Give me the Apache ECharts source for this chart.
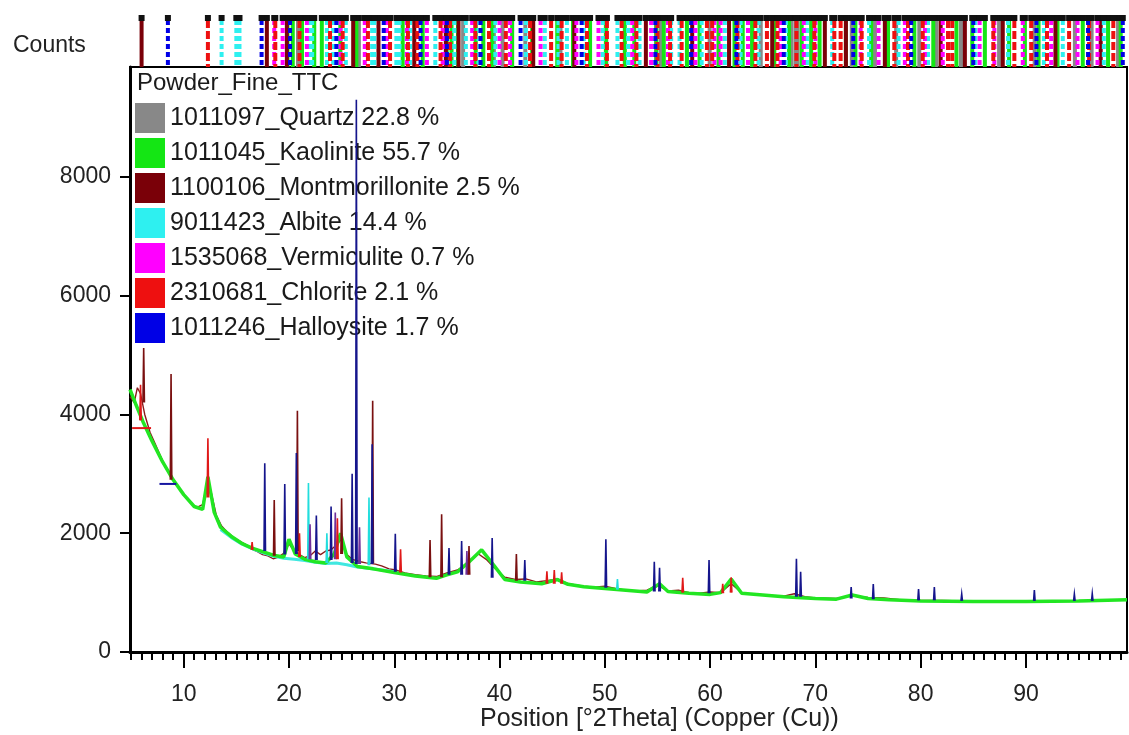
<!DOCTYPE html>
<html><head><meta charset="utf-8">
<script src="https://cdn.jsdelivr.net/npm/echarts@6/dist/echarts.min.js"></script>
<style>html,body{margin:0;padding:0;background:#fff}#c{width:1129px;height:735px}</style>
</head><body><div id="c"></div>
<script>
// ---------- data ----------
const phaseNames = ['1011097_Quartz 22.8 %','1011045_Kaolinite 55.7 %','1100106_Montmorillonite 2.5 %','9011423_Albite 14.4 %','1535068_Vermiculite 0.7 %','2310681_Chlorite 2.1 %','1011246_Halloysite 1.7 %'];
const phaseColors = ['#888888','#14e614','#7a0008','#2ef0f0','#ff00ff','#ee1010','#0000e6'];
const phaseDash = [null, null, null, [5,3], [5,3], [8,3], [5,3]];
// reference pattern stick positions (°2Theta)
const quartzPos = [20.86,26.64,36.54,39.46,40.29,42.45,45.79,50.14,54.87,55.33,59.96,63.99,64.81,67.74,68.14,68.31,73.46,75.66,77.67,79.87,81.49,83.83,87.45,90.83,94.65,96.24,98.75];
const kaolinitePos = [19.86,20.36,21.24,23.12,24.88,26.4,34.98,35.44,36.06,37.74,38.46,39.3,41.2,45.48,46.98,48.6,50.1,51.9,54.9,55.6,57.8,59.0,60.8,62.32,64.0,66.1,67.5,68.7,70.4,72.9,73.8,76.9,79.4,83.4,84.9,86.1,88.4,91.2,93.0,95.4,97.8,22.4,30.8,32.7,43.1,52.8,63.1,69.6,75.3,81.2,89.9,99.0];
const montPos = [6.0,17.9,19.8,28.5,34.9,36.1,43.2,53.9,61.8,65.9,72.9,76.6,84.2,87.8,92.8,97.1,26.1,31.9,47.1,58.3,70.9,81.9];
const albitePos = [13.6,15.0,15.3,22.0,22.2,23.6,24.2,25.4,27.9,28.1,30.2,30.5,31.5,33.9,35.0,35.7,36.8,39.6,42.5,44.3,45.6,48.0,49.8,51.2,52.2,53.3,56.3,59.2,61.4,64.6,67.2,71.6,75.1,80.7,88.3,93.5,38.0,46.4,57.1,62.9,69.2,77.9,85.2,91.7,97.4];
const vermPos = [18.6,19.4,21.7,24.9,27.2,31.2,33.1,34.6,37.4,41.0,43.9,47.3,49.4,52.6,56.0,58.6,60.4,63.6,66.7,70.0,74.3,78.5,82.1,85.6,89.7,92.4,96.8,29.3,40.0,54.4,61.0,68.9,76.0,80.4,87.0,94.9];
const chloritePos = [12.3,18.7,23.9,25.1,29.6,31.3,34.4,35.3,37.7,40.6,44.9,45.9,50.2,53.0,56.2,57.3,59.7,60.2,62.6,65.4,68.2,69.9,71.8,74.4,77.5,80.2,83.0,86.9,90.5,94.1,98.3,21.0,27.5,32.2,39.0,42.9,48.3,51.6,55.0,64.3,66.4,72.4,78.8,82.6,88.9,92.0,96.0];
const halloPos = [8.5,17.4,20.1,24.5,29.0,32.5,35.0,38.2,42.0,47.8,54.8,58.2,62.5,67.0,73.6,79.1,85.0,91.0,95.9,99.2];
const phasePos = [quartzPos,kaolinitePos,montPos,albitePos,vermPos,chloritePos,halloPos];

// observed scan (background trace) [2Theta, counts]
const observed = [[4.9,4300],[5.3,4200],[5.6,4450],[5.9,4350],[6.3,4000],[6.8,3700],[7.3,3500],[7.8,3300],[8.3,3100],[8.8,2950],[9.4,2800],[10,2650],[10.6,2520],[11.2,2430],[11.8,2480],[12.2,2800],[12.6,2700],[13.1,2300],[13.6,2120],[14.2,2010],[14.8,1920],[15.4,1860],[16,1800],[16.5,1730],[17,1690],[17.5,1640],[18,1620],[18.5,1570],[19,1600],[19.5,1660],[20,1820],[20.5,1700],[21,1640],[21.5,1590],[22,1620],[22.5,1700],[23,1640],[23.5,1700],[24,1720],[24.5,1800],[25,1900],[25.5,1640],[26,1560],[26.8,1520],[27.3,1500],[28.2,1480],[28.8,1450],[29.5,1400],[30.2,1380],[31,1330],[32,1300],[33,1280],[34,1270],[35,1330],[36,1380],[37,1500],[38,1650],[38.8,1550],[39.5,1420],[40.5,1260],[41.5,1220],[42.5,1230],[43.5,1180],[44.5,1200],[45.5,1230],[46.5,1150],[48,1110],[49,1090],[50,1110],[51,1070],[52,1040],[53,1030],[54,1040],[55,1120],[56,1030],[57,1040],[58,1000],[59,990],[60,1010],[61,1000],[62,1150],[63,1000],[64,970],[65,960],[66,950],[67,940],[68,980],[69,930],[70,910],[72,900],[73.5,950],[75,920],[76.5,910],[78,880],[80,870],[82,870],[84,860],[86,860],[88,855],[90,860],[92,860],[94,865],[96,865],[98,870],[99.6,875]];
// calculated profile (green)
const calculated = [[4.9,4420],[5.5,4150],[6.2,3850],[7,3550],[8,3200],[9,2900],[10,2650],[11,2450],[11.8,2400],[12.3,2950],[12.9,2350],[13.5,2100],[14.5,1950],[15.5,1830],[16.5,1750],[17.5,1690],[18.5,1630],[19.5,1600],[20,1900],[20.6,1650],[21.5,1560],[22.5,1520],[23.5,1500],[24.3,1650],[24.9,2000],[25.5,1600],[26.5,1440],[28,1400],[30,1340],[32,1280],[34,1240],[35,1300],[36,1350],[37,1500],[38.3,1720],[39.5,1450],[40.5,1220],[42,1180],[44,1150],[45.5,1220],[46.5,1140],[48,1100],[50,1070],[52,1040],[54,1010],[55.2,1150],[56,1020],[58,990],[60,970],[61,1000],[62,1230],[63,990],[65,960],[67,930],[70,900],[72,890],[73.5,960],[75,900],[77,880],[80,860],[85,850],[90,850],[95,860],[99.6,880]];
const albiteProfile = [[13.5,2060],[14.5,1930],[15.5,1820],[16.5,1740],[17.5,1675],[18.5,1615],[19.5,1580],[20.5,1560],[21.5,1540],[22.5,1510],[23.5,1490],[24.5,1500],[25.5,1470],[26.5,1430],[27.5,1410],[28.5,1390],[30,1350]];
const stepRed = [[5.1,3770],[6.9,3770]];
const stepNavy = [[7.7,2830],[9.3,2830]];
// peaks [2Theta, base, top]
const spikesNavy = [[17.7,1700,3180],[19.6,1640,2830],[20.7,1650,3350],[22.6,1550,2300],[24.0,1550,2450],[26.0,1500,3000],[26.4,1480,9300],[27.9,1480,3500],[30.1,1350,1990],[35.2,1300,1750],[36.4,1300,1870],[39.3,1250,1920],[42.4,1200,1550],[50.1,1080,1900],[54.7,1020,1520],[55.2,1020,1420],[59.9,990,1550],[68.2,930,1570],[68.6,930,1350],[73.4,900,1095],[75.5,890,1145],[79.8,870,1060],[81.3,870,1095],[83.9,860,975],[90.8,860,1045],[94.6,860,975],[96.3,860,980]];
const spikesDark = [[6.2,4200,5120],[8.8,2900,4680],[20.8,1700,4060],[27.95,1500,4230],[34.5,1260,2320],[33.4,1260,1885],[41.6,1200,1650],[25.0,1650,2590],[18.6,1620,2560],[37.1,1300,1785]];
const spikesRed = [[12.3,2600,3600],[5.9,3900,4500],[21.0,1600,2000],[24.6,1560,2250],[44.5,1150,1360],[45.2,1150,1380],[45.9,1150,1340],[57.4,1000,1250],[62.0,1000,1260],[61.2,990,1150],[30.6,1340,1730],[16.5,1720,1850]];
const spikesCyan = [[21.85,1560,2845],[27.6,1460,2600],[51.2,1050,1230],[23.6,1500,2000]];
const spikesPurple = [[24.4,1560,2350],[22.0,1560,2150],[36.9,1300,1700],[26.7,1480,2100]];
// axes
const xMin = 4.9, xMax = 99.6, yMax = 9850;
const xTickLabels = [10,20,30,40,50,60,70,80,90];
const xMinorTicks = [5,6,7,8,9,11,12,13,14,15,16,17,18,19,21,22,23,24,25,26,27,28,29,31,32,33,34,35,36,37,38,39,41,42,43,44,45,46,47,48,49,51,52,53,54,55,56,57,58,59,61,62,63,64,65,66,67,68,69,71,72,73,74,75,76,77,78,79,81,82,83,84,85,86,87,88,89,91,92,93,94,95,96,97,98,99];
const yTickLabels = [0,2000,4000,6000,8000];

// ---------- chart ----------
const FONT = '"Liberation Sans", Arial, sans-serif';
function stickRenderer(dash) {
  return function (params, api) {
    const x = api.value(0);
    const t = api.coord([x, 1]), b = api.coord([x, 0]);
    return {type: 'group', children: [
      {type: 'line', shape: {x1: t[0], y1: t[1] + 5, x2: b[0], y2: b[1]},
       style: {stroke: api.visual('color'), lineWidth: 4, lineDash: dash}},
      {type: 'rect', shape: {x: t[0] - 3, y: t[1], width: 6, height: 6}, style: {fill: '#111'}}
    ]};
  };
}
function spikeRenderer(params, api) {
  const x = api.value(0), b = api.value(1), t = api.value(2);
  return {type: 'polyline',
    shape: {points: [api.coord([x - 0.07, b]), api.coord([x, t]), api.coord([x + 0.07, b])]},
    style: {stroke: api.visual('color'), lineWidth: 1.6, fill: null}};
}
const series = [];
phaseNames.forEach((n, i) => {
  series.push({name: n, type: 'custom', xAxisIndex: 2, yAxisIndex: 1, z: 2,
    itemStyle: {color: phaseColors[i]}, renderItem: stickRenderer(phaseDash[i]),
    encode: {x: 0}, data: phasePos[i].map(p => [p]), silent: true, clip: true});
});
series.push({type: 'line', name: 'obs', data: observed, showSymbol: false, z: 3, lineStyle: {color: '#8a1a1a', width: 1.4}});
series.push({type: 'line', name: 'albcalc', data: albiteProfile, showSymbol: false, z: 3, lineStyle: {color: '#40e8e0', width: 3}});
series.push({type: 'line', name: 'calc', data: calculated, showSymbol: false, z: 4, lineStyle: {color: '#22e622', width: 3.5}});
series.push({type: 'line', name: 'sr', data: stepRed, showSymbol: false, z: 5, lineStyle: {color: '#e01818', width: 2}});
series.push({type: 'line', name: 'sn', data: stepNavy, showSymbol: false, z: 5, lineStyle: {color: '#1515a0', width: 2}});
[[spikesCyan,'#22dddd'],[spikesPurple,'#70309a'],[spikesRed,'#e01818'],[spikesDark,'#7a1010'],[spikesNavy,'#15158c']].forEach(([d,c]) => {
  series.push({type: 'custom', name: 'pk', z: 6, itemStyle: {color: c}, renderItem: spikeRenderer, encode: {x: 0, y: [1, 2]}, data: d, clip: true});
});

const chart = echarts.init(document.getElementById('c'), null, {renderer: 'canvas'});
chart.setOption({
  animation: false,
  backgroundColor: '#fff',
  grid: [
    {left: 130, right: 2, top: 67, bottom: 83, show: true, borderColor: '#000', borderWidth: 2, backgroundColor: 'transparent'},
    {left: 130, right: 2, top: 15, height: 52, show: false}
  ],
  xAxis: [
    {type: 'value', gridIndex: 0, min: xMin, max: xMax,
     axisLine: {show: true, onZero: false, lineStyle: {color: '#000', width: 3}},
     axisTick: {show: true, customValues: xTickLabels, length: 16, lineStyle: {color: '#000', width: 2}},
     axisLabel: {show: true, customValues: xTickLabels, margin: 31, fontSize: 23, color: '#222', fontFamily: FONT},
     splitLine: {show: false}},
    {type: 'value', gridIndex: 0, min: xMin, max: xMax, position: 'bottom',
     axisLine: {show: false}, axisLabel: {show: false}, splitLine: {show: false},
     axisTick: {show: true, customValues: xMinorTicks, length: 8, lineStyle: {color: '#000', width: 2}}},
    {type: 'value', gridIndex: 1, min: xMin, max: xMax, show: false}
  ],
  yAxis: [
    {type: 'value', gridIndex: 0, min: 0, max: yMax,
     axisLine: {show: true, lineStyle: {color: '#000', width: 3}},
     axisTick: {show: true, customValues: yTickLabels, length: 10, lineStyle: {color: '#000', width: 2}},
     axisLabel: {show: true, customValues: yTickLabels, margin: 19, fontSize: 23, color: '#222', fontFamily: FONT,
       formatter: v => String(v)},
     splitLine: {show: false}},
    {type: 'value', gridIndex: 1, min: 0, max: 1, show: false}
  ],
  legend: {
    data: phaseNames, orient: 'vertical', left: 135, top: 103, z: 1,
    itemWidth: 30, itemHeight: 30, itemGap: 5, padding: 0, icon: 'rect',
    selectedMode: false,
    textStyle: {fontSize: 25, color: '#1a1a1a', fontFamily: FONT, lineHeight: 30}
  },
  graphic: [
    {type: 'text', left: 13, top: 34, z: 10, style: {text: 'Counts', fontSize: 23, fill: '#222', fontFamily: FONT}},
    {type: 'text', left: 137, top: 71, z: 1, style: {text: 'Powder_Fine_TTC', fontSize: 24, fill: '#1a1a1a', fontFamily: FONT}},
    {type: 'text', left: 480, top: 707, z: 10, style: {text: 'Position [°2Theta] (Copper (Cu))', fontSize: 25, fill: '#222', fontFamily: FONT}}
  ],
  series: series
});
</script></body></html>
